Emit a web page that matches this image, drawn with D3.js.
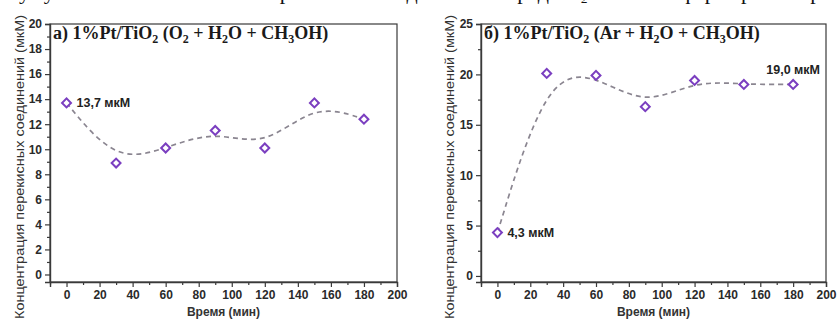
<!DOCTYPE html>
<html>
<head>
<meta charset="utf-8">
<script src="https://cdn.jsdelivr.net/npm/d3@7"></script>
<style>
  html, body { margin: 0; padding: 0; background: #fff; }
  svg { display: block; }
</style>
</head>
<body>
<svg id="fig" width="840" height="323"></svg>
<script>
// Sampling times, minutes
const timeMin = [0, 30, 60, 90, 120, 150, 180];
// Peroxide concentration, µM
const concO2 = [13.7, 8.9, 10.1, 11.5, 10.1, 13.7, 12.4];
const concAr = [4.3, 20.1, 19.9, 16.8, 19.4, 19.0, 19.0];
// Axis ticks
const xTicks = [0, 20, 40, 60, 80, 100, 120, 140, 160, 180, 200];
const xMinor = [-10, 10, 30, 50, 70, 90, 110, 130, 150, 170, 190];
const yTicksO2 = [0, 2, 4, 6, 8, 10, 12, 14, 16, 18, 20];
const yMinorO2 = [1, 3, 5, 7, 9, 11, 13, 15, 17, 19];
const yTicksAr = [0, 5, 10, 15, 20, 25];
const yMinorAr = [2.5, 7.5, 12.5, 17.5, 22.5];
// Value call-outs: [point index, text]
const notesO2 = [[0, "13,7 мкМ"]];
const notesAr = [[0, "4,3 мкМ"], [6, "19,0 мкМ"]];
const yTitle = "Концентрация перекисных соединений (мкМ)";
const xTitle = "Время (мин)";

const svg = d3.select("#fig");
const SANS = "'Liberation Sans', Arial, sans-serif";
const SERIF = "'Liberation Serif', 'Times New Roman', serif";

// Caption line running above the figure (only its lower part is in view)
svg.append("text")
  .attr("x", 6).attr("y", -1)
  .attr("font-family", SERIF).attr("font-size", 22).attr("fill", "#111")
  .text("Кумулятивное накопление перекисных соединений в среде O\u2082 и в атмосфере аргона при облучении суспензий");

function panel(opt) {
  const g = svg.append("g");
  const x = d3.scaleLinear().domain([-10, 200]).range([opt.x0, opt.x1]);
  const y = d3.scaleLinear().domain([-0.6, opt.yMax]).range([282, 24]);

  // frame
  g.append("rect")
    .attr("x", opt.x0).attr("y", 24)
    .attr("width", opt.x1 - opt.x0).attr("height", 282 - 24)
    .attr("fill", "none").attr("stroke", "#3a3a3a").attr("stroke-width", 1.2);

  // x axis
  const gx = g.append("g").attr("transform", `translate(0,282)`);
  gx.call(d3.axisBottom(x).tickValues(xTicks).tickSize(5).tickPadding(3).tickFormat(d3.format("d")));
  gx.append("g").call(d3.axisBottom(x).tickValues(xMinor).tickSize(3).tickFormat(""))
    .select(".domain").remove();
  // y axis
  const gy = g.append("g").attr("transform", `translate(${opt.x0},0)`);
  gy.call(d3.axisLeft(y).tickValues(opt.yTicks).tickSize(5).tickPadding(3).tickFormat(d3.format("d")));
  gy.append("g").call(d3.axisLeft(y).tickValues(opt.yMinor).tickSize(3).tickFormat(""))
    .select(".domain").remove();

  [gx, gy].forEach(a => {
    a.selectAll(".domain").attr("stroke", "#3a3a3a").attr("stroke-width", 1.4);
    a.selectAll(".tick line").attr("stroke", "#3a3a3a").attr("stroke-width", 1.2);
    a.selectAll("text")
      .attr("font-family", SANS).attr("font-size", 12).attr("font-weight", "bold")
      .attr("fill", "#2a2a2a");
  });

  // axis titles
  g.append("text")
    .attr("transform", `translate(${opt.yTitleX},${opt.yTitleY}) rotate(-90)`)
    .attr("text-anchor", "middle").attr("dominant-baseline", "central")
    .attr("font-family", SANS).attr("font-size", 13.5).attr("fill", "#333")
    .attr("textLength", 304).attr("lengthAdjust", "spacingAndGlyphs")
    .text(yTitle);
  g.append("text")
    .attr("x", (opt.x0 + opt.x1) / 2).attr("y", 316)
    .attr("text-anchor", "middle")
    .attr("font-family", SANS).attr("font-size", 12).attr("font-weight", "bold").attr("fill", "#333")
    .text(xTitle);

  // panel heading with chemical subscripts
  const t = g.append("text")
    .attr("x", opt.x0 + 3).attr("y", 39)
    .attr("font-family", SERIF).attr("font-size", 18).attr("font-weight", "bold").attr("fill", "#1a1a1a");
  let lowered = false;
  opt.title.forEach(([s, sub]) => {
    t.append("tspan").attr("dy", lowered ? -4 : 0).text(s);
    lowered = false;
    if (sub) {
      t.append("tspan").attr("font-size", 12).attr("dy", 4).text(sub);
      lowered = true;
    }
  });

  // smoothed trend (B-spline through the measured points)
  const pts = timeMin.map((t, i) => [t, opt.values[i]]);
  g.append("path")
    .attr("d", d3.line().x(d => x(d[0])).y(d => y(d[1])).curve(d3.curveBasis)(pts))
    .attr("fill", "none").attr("stroke", "#8a8590").attr("stroke-width", 1.7)
    .attr("stroke-dasharray", "5,4");

  // open diamond markers
  const sym = d3.symbol(d3.symbolSquare, 40);
  g.selectAll("path.pt").data(pts).join("path")
    .attr("class", "pt")
    .attr("d", sym)
    .attr("transform", d => `translate(${x(d[0])},${y(d[1])}) rotate(45)`)
    .attr("fill", "#fff").attr("stroke", "#7b3fc0").attr("stroke-width", 2);

  // value call-outs
  opt.notes.forEach(([i, s]) => {
    const pos = opt.notePos(i);
    g.append("text")
      .attr("x", x(timeMin[i]) + pos[0]).attr("y", y(opt.values[i]) + pos[1])
      .attr("text-anchor", pos[2] || "start")
      .attr("font-family", SANS).attr("font-size", 12.5).attr("font-weight", "bold").attr("fill", "#222")
      .text(s);
  });
}

panel({
  x0: 50, x1: 397, yMax: 20,
  yTicks: yTicksO2, yMinor: yMinorO2,
  values: concO2, notes: notesO2,
  notePos: i => [10, 4],
  yTitleX: 19, yTitleY: 167,
  title: [["а) 1%Pt/TiO", "2"], [" (O", "2"], [" + H", "2"], ["O + CH", "3"], ["OH)", null]]
});

panel({
  x0: 481, x1: 826, yMax: 25,
  yTicks: yTicksAr, yMinor: yMinorAr,
  values: concAr, notes: notesAr,
  notePos: i => i === 0 ? [10, 4] : [0, -10, "middle"],
  yTitleX: 449, yTitleY: 167,
  title: [["б) 1%Pt/TiO", "2"], [" (Ar + H", "2"], ["O + CH", "3"], ["OH)", null]]
});
</script>
</body>
</html>
